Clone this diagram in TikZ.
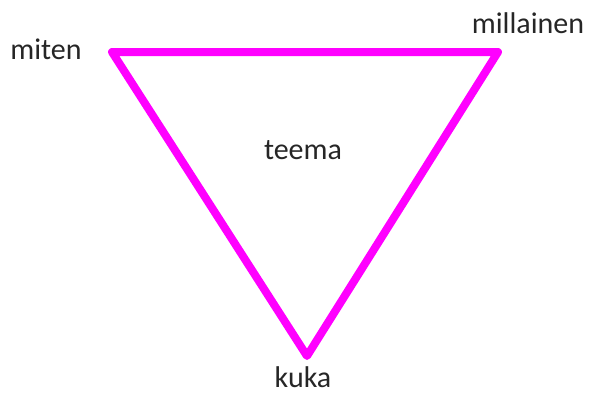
\documentclass[tikz,border=0pt]{standalone}
\usepackage{fontspec}
\setmainfont{Carlito}
\definecolor{mag}{RGB}{255,0,255}
\begin{document}
\begin{tikzpicture}[x=1pt,y=-1pt,
  lbl/.style={font=\fontsize{30}{34}\selectfont, inner sep=0pt, anchor=base, text=black!85}]
\useasboundingbox (0,0) rectangle (589,394);
\coordinate (tl) at (112,52);
\coordinate (tr) at (498,52);
\coordinate (bt) at (307,356);
\draw[mag, line width=8pt, line join=round] (tl) -- (tr) -- (bt) -- cycle;
\node[lbl] (miten) at (46,59) {miten};
\node[lbl] (millainen) at (528,33) {millainen};
\node[lbl] (teema) at (303,159) {teema};
\node[lbl] (kuka) at (303,387) {kuka};
\end{tikzpicture}
\end{document}
